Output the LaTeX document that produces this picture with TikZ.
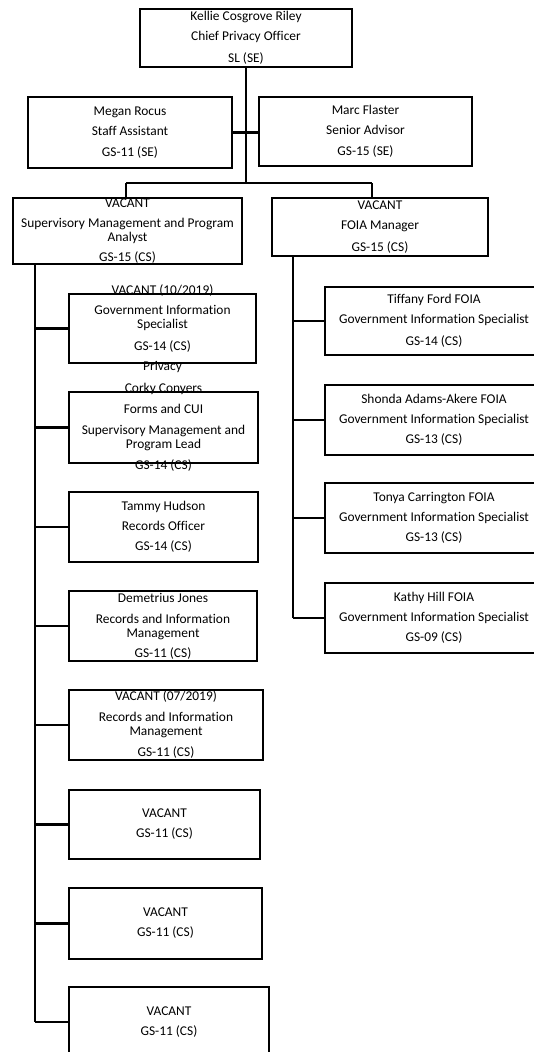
\documentclass[tikz,border=0pt]{standalone}
\usepackage{fontspec}
\setmainfont[Ligatures=NoCommon]{Carlito}
\begin{document}
\begin{tikzpicture}[x=1pt,y=-1pt,
  box/.style={draw, line width=2.4pt, rectangle, inner sep=0pt},
  txt/.style={align=center, font=\fontsize{13.4}{14}\selectfont, inner sep=0pt},
  conn/.style={line width=2.6pt}]
\useasboundingbox (0,0) rectangle (534,1052);
\clip (0,0) rectangle (534,1052);
% boxes
\node[box, minimum width=212pt, minimum height=58pt] (top) at (246,38) {};
\node[box, minimum width=204pt, minimum height=71pt] (megan) at (130,132.5) {};
\node[box, minimum width=213pt, minimum height=69pt] (marc) at (365.5,131.5) {};
\node[box, minimum width=229pt, minimum height=66pt] (vsm) at (127.5,231) {};
\node[box, minimum width=216pt, minimum height=58pt] (foia) at (380,227) {};
\node[box, minimum width=187pt, minimum height=69pt] (L1) at (162.5,328.5) {};
\node[box, minimum width=189pt, minimum height=71pt] (L2) at (163.5,427.5) {};
\node[box, minimum width=189pt, minimum height=70pt] (L3) at (163.5,527) {};
\node[box, minimum width=188pt, minimum height=70pt] (L4) at (163,626) {};
\node[box, minimum width=194pt, minimum height=70pt] (L5) at (166,725) {};
\node[box, minimum width=191pt, minimum height=69pt] (L6) at (164.5,824.5) {};
\node[box, minimum width=193pt, minimum height=71pt] (L7) at (165.5,923.5) {};
\node[box, minimum width=200pt, minimum height=70pt] (L8) at (169,1022) {};
\node[box, minimum width=218pt, minimum height=68pt] (R1) at (434,321) {};
\node[box, minimum width=218pt, minimum height=70pt] (R2) at (434,420) {};
\node[box, minimum width=218pt, minimum height=70pt] (R3) at (434,518) {};
\node[box, minimum width=218pt, minimum height=70pt] (R4) at (434,618) {};
% texts
\node[txt] (topt) at (top.center) {Kellie Cosgrove Riley\\[6pt]Chief Privacy Officer\\[8pt]SL (SE)};
\node[txt] (megant) at (megan.center) {Megan Rocus\\[6pt]Staff Assistant\\[7pt]GS-11 (SE)};
\node[txt] (marct) at (marc.center) {Marc Flaster\\[6pt]Senior Advisor\\[7pt]GS-15 (SE)};
\node[txt] (vsmt) at (vsm.center) {VACANT\\[6pt]Supervisory Management and Program\\Analyst\\[6pt]GS-15 (CS)};
\node[txt] (foiat) at (foia.center) {VACANT\\[6pt]FOIA Manager\\[8pt]GS-15 (CS)};
\node[txt] (L1t) at (L1.center) {VACANT (10/2019)\\[6pt]Government Information\\Specialist\\[8pt]GS-14 (CS)\\[6pt]Privacy};
\node[txt] (L2t) at (L2.center) {Corky Conyers\\[7pt]Forms and CUI\\[7pt]Supervisory Management and\\Program Lead\\[7pt]GS-14 (CS)};
\node[txt] (L3t) at (L3.center) {Tammy Hudson\\[6pt]Records Officer\\[6pt]GS-14 (CS)};
\node[txt] (L4t) at (L4.center) {Demetrius Jones\\[7pt]Records and Information\\Management\\[6pt]GS-11 (CS)};
\node[txt] (L5t) at (L5.center) {VACANT (07/2019)\\[7pt]Records and Information\\Management\\[7pt]GS-11 (CS)};
\node[txt] (L6t) at (L6.center) {VACANT\\[6pt]GS-11 (CS)};
\node[txt] (L7t) at (L7.center) {VACANT\\[6pt]GS-11 (CS)};
\node[txt] (L8t) at (L8.center) {VACANT\\[6pt]GS-11 (CS)};
\node[txt] (R1t) at (R1.center) {Tiffany Ford FOIA\\[6pt]Government Information Specialist\\[8pt]GS-14 (CS)};
\node[txt] (R2t) at (R2.center) {Shonda Adams-Akere FOIA\\[6pt]Government Information Specialist\\[6pt]GS-13 (CS)};
\node[txt] (R3t) at (R3.center) {Tonya Carrington FOIA\\[6pt]Government Information Specialist\\[6pt]GS-13 (CS)};
\node[txt] (R4t) at (R4.center) {Kathy Hill FOIA\\[6pt]Government Information Specialist\\[6pt]GS-09 (CS)};
% connectors
\coordinate (j) at (246,183);
\coordinate (bl) at (126,183);
\coordinate (br) at (372,183);
\coordinate (lt) at (35,0);
\coordinate (rt) at (293,0);
\draw[conn] (top.south) -- (j);
\draw[conn] (megan.east) -- (megan.east -| marc.west);
\draw[conn] (bl) -- (br);
\draw[conn] (bl) -- (bl |- vsm.north);
\draw[conn] (br) -- (br |- foia.north);
\draw[conn] (vsm.south -| lt) -- (L8.west -| lt);
\foreach \n in {L1,L2,L3,L4,L5,L6,L7,L8}
  \draw[conn] (\n.west -| lt) -- (\n.west);
\draw[conn] (foia.south -| rt) -- (R4.west -| rt);
\foreach \n in {R1,R2,R3,R4}
  \draw[conn] (\n.west -| rt) -- (\n.west);
\end{tikzpicture}
\end{document}
